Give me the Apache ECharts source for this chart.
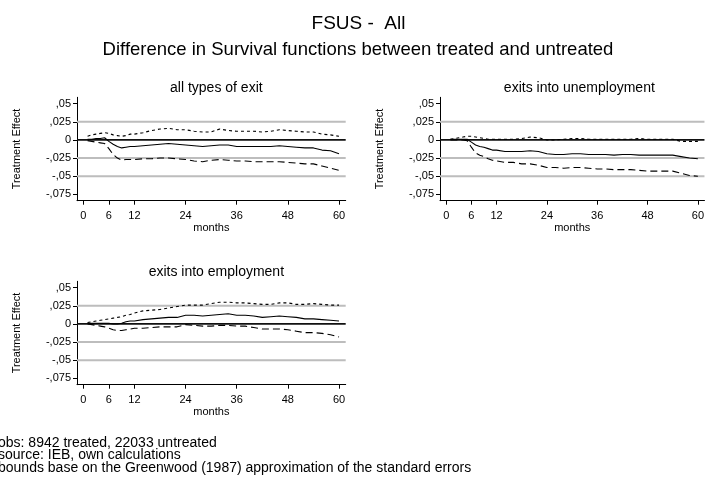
<!DOCTYPE html>
<html><head><meta charset="utf-8">
<script src="https://cdn.jsdelivr.net/npm/echarts@6/dist/echarts.min.js"></script>
<style>html,body{margin:0;padding:0;background:#fff}#c{width:707px;height:481px}</style>
</head><body><div id="c"></div>
<script>
const months = [1,2,3,4,5,6,7,8,9,10,11,12,14,16,18,20,22,24,26,28,30,32,34,36,38,40,42,44,46,48,50,52,54,56,58,60];

const allUpper = [0.005,0.007,0.008,0.009,0.010,0.009,0.007,0.006,0.005,0.006,0.008,0.008,0.010,0.013,0.015,0.016,0.014,0.014,0.012,0.011,0.011,0.015,0.013,0.012,0.012,0.012,0.011,0.012,0.014,0.013,0.012,0.011,0.011,0.008,0.007,0.005];
const allMid   = [0.001,0.001,0.002,0.002,0.003,-0.002,-0.006,-0.009,-0.011,-0.010,-0.009,-0.009,-0.008,-0.007,-0.006,-0.005,-0.006,-0.007,-0.008,-0.009,-0.008,-0.007,-0.007,-0.009,-0.009,-0.009,-0.009,-0.009,-0.008,-0.009,-0.010,-0.011,-0.011,-0.014,-0.015,-0.019];
const allLower = [-0.001,-0.002,-0.003,-0.004,-0.005,-0.012,-0.020,-0.025,-0.028,-0.027,-0.027,-0.027,-0.026,-0.026,-0.025,-0.025,-0.026,-0.027,-0.029,-0.030,-0.028,-0.027,-0.028,-0.029,-0.029,-0.030,-0.030,-0.030,-0.030,-0.031,-0.032,-0.033,-0.033,-0.036,-0.039,-0.042];

const unempUpper = [0.001,0.002,0.003,0.004,0.005,0.005,0.004,0.003,0.002,0.001,0.001,0.001,0.001,0.001,0.002,0.004,0.003,0.000,0.000,0.001,0.002,0.002,0.001,0.001,0.001,0.001,0.001,0.001,0.002,0.001,0.001,0.001,0.001,-0.002,-0.002,-0.002];
const unempMid   = [0.001,0.001,0.001,0.001,0.001,-0.003,-0.007,-0.009,-0.010,-0.012,-0.014,-0.014,-0.016,-0.016,-0.016,-0.015,-0.016,-0.019,-0.020,-0.020,-0.019,-0.019,-0.020,-0.020,-0.020,-0.021,-0.020,-0.020,-0.021,-0.021,-0.021,-0.021,-0.021,-0.023,-0.025,-0.026];
const unempLower = [0.000,0.000,0.000,0.000,-0.001,-0.010,-0.018,-0.021,-0.023,-0.026,-0.028,-0.029,-0.031,-0.031,-0.033,-0.033,-0.035,-0.038,-0.038,-0.039,-0.038,-0.038,-0.039,-0.040,-0.040,-0.041,-0.041,-0.041,-0.042,-0.043,-0.043,-0.043,-0.043,-0.046,-0.049,-0.050];

const empUpper = [0.002,0.003,0.004,0.005,0.006,0.007,0.008,0.009,0.010,0.012,0.013,0.015,0.018,0.019,0.020,0.022,0.024,0.026,0.026,0.026,0.028,0.030,0.030,0.029,0.029,0.028,0.027,0.027,0.029,0.029,0.027,0.027,0.028,0.027,0.026,0.026];
const empMid   = [0.001,0.001,0.001,0.001,0.001,0.001,0.000,0.000,0.001,0.003,0.004,0.004,0.006,0.007,0.008,0.009,0.009,0.012,0.012,0.011,0.012,0.013,0.014,0.012,0.012,0.011,0.009,0.010,0.011,0.010,0.009,0.007,0.007,0.006,0.005,0.004];
const empLower = [0.000,-0.001,-0.002,-0.003,-0.004,-0.006,-0.008,-0.009,-0.009,-0.008,-0.007,-0.006,-0.006,-0.005,-0.004,-0.004,-0.004,-0.001,-0.002,-0.003,-0.003,-0.002,-0.002,-0.003,-0.003,-0.005,-0.007,-0.007,-0.007,-0.008,-0.010,-0.012,-0.012,-0.013,-0.015,-0.018];

const xTicks = [0,6,12,24,36,48,60];
const yTicks = [-0.075,-0.05,-0.025,0,0.025,0.05];
const yTickLabels = ['-,075','-,05','-,025','0',',025',',05'];
const grayLines = [0.025,-0.025,-0.05];
const zeroLine = 0;
const panelTitles = ['all types of exit','exits into unemployment','exits into employment'];
const mainTitle = 'FSUS -  All';
const subTitle = 'Difference in Survival functions between treated and untreated';
const footnotes = ['obs: 8942 treated, 22033 untreated','source: IEB, own calculations','bounds base on the Greenwood (1987) approximation of the standard errors'];

const X_MIN = -1.48, X_MAX = 61.57, Y_MIN = -0.0838, Y_MAX = 0.0588;
const panels = [
  {title: panelTitles[0], upper: allUpper, mid: allMid, lower: allLower, left: 77, top: 97.3},
  {title: panelTitles[1], upper: unempUpper, mid: unempMid, lower: unempLower, left: 440, top: 97.3},
  {title: panelTitles[2], upper: empUpper, mid: empMid, lower: empLower, left: 77, top: 281.3}
];
const GW = 268.7, GH = 103.4;
const FONT = 'Liberation Sans, Arial, sans-serif';

function fmtY(v){
  const i = yTicks.findIndex(t => Math.abs(t - v) < 1e-9);
  return i >= 0 ? yTickLabels[i] : '';
}
function pairs(arr){ return months.map((m,i)=>[m, arr[i]]); }

const grid = [], xAxis = [], yAxis = [], series = [], title = [];
title.push({text: mainTitle, left: 353.5, top: 9, textAlign: 'center',
  textStyle:{fontFamily: FONT, fontSize: 19, fontWeight: 'normal', color:'#000'}});
title.push({text: subTitle, left: 353, top: 35, textAlign: 'center',
  textStyle:{fontFamily: FONT, fontSize: 18.5, fontWeight: 'normal', color:'#000'}});

panels.forEach((p, k) => {
  grid.push({left: p.left, top: p.top, width: GW, height: GH, containLabel: false});
  title.push({text: p.title, left: p.left + GW/2, top: p.top - 21, textAlign: 'center',
    textStyle:{fontFamily: FONT, fontSize: 14, fontWeight: 'normal', color:'#000'}});
  xAxis.push({type:'value', gridIndex:k, min:X_MIN, max:X_MAX,
    axisLine:{show:true, onZero:false, lineStyle:{color:'#000', width:1}},
    axisTick:{show:true, customValues: xTicks, length:4, lineStyle:{color:'#000'}},
    axisLabel:{show:true, customValues: xTicks, fontSize:11, fontFamily: FONT, color:'#000', margin:10},
    splitLine:{show:false},
    name:'months', nameLocation:'middle', nameGap:22,
    nameTextStyle:{fontSize:11, fontFamily: FONT, color:'#000'}});
  yAxis.push({type:'value', gridIndex:k, min:Y_MIN, max:Y_MAX,
    axisLine:{show:true, onZero:false, lineStyle:{color:'#000', width:1}},
    axisTick:{show:true, customValues: yTicks, length:4, lineStyle:{color:'#000'}},
    axisLabel:{show:true, customValues: yTicks, formatter: fmtY, fontSize:11, fontFamily: FONT, color:'#000', margin:6},
    splitLine:{show:false},
    name:'Treatment Effect', nameLocation:'middle', nameGap:55, nameRotate:90,
    nameTextStyle:{fontSize:11, fontFamily: FONT, color:'#000'}});
  grayLines.forEach(v => series.push({type:'line', xAxisIndex:k, yAxisIndex:k, z:1, silent:true,
    showSymbol:false, symbol:'none', data:[[X_MIN, v],[X_MAX, v]],
    lineStyle:{color:'#bdbdbd', width:2, type:'solid'}}));
  series.push({type:'line', xAxisIndex:k, yAxisIndex:k, z:1, silent:true,
    showSymbol:false, symbol:'none', data:[[X_MIN, zeroLine],[X_MAX, zeroLine]],
    lineStyle:{color:'#111', width:1.8, type:'solid'}});
  const mk = (arr, type) => ({type:'line', xAxisIndex:k, yAxisIndex:k, data: pairs(arr), z:3,
    showSymbol:false, symbol:'none', silent:true,
    lineStyle:{color:'#000', width:1.1, type: type}});
  series.push(mk(p.upper, [3,3]));
  series.push(mk(p.mid, 'solid'));
  series.push(mk(p.lower, [7,4]));
});

const graphic = footnotes.map((t,i)=>({type:'text', left:-2, top: 436 + i*12.5,
  style:{text:t, font: '14px ' + FONT, fill:'#000'}}));

const chart = echarts.init(document.getElementById('c'), null, {renderer:'canvas'});
chart.setOption({animation:false, backgroundColor:'#fff', title, grid, xAxis, yAxis, series, graphic});
</script>
</body></html>
